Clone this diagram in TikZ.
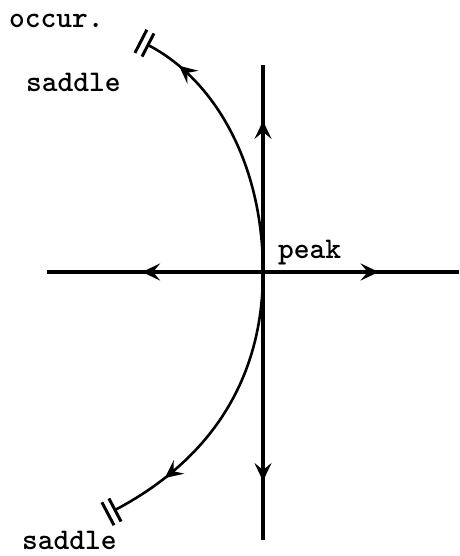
\documentclass[tikz,border=0pt]{standalone}
\usetikzlibrary{arrows.meta,decorations.markings}
\tikzset{
  axis/.style={line width=3.2pt},
  orbit/.style={line width=2.6pt},
  midarrow/.style={postaction={decorate,decoration={markings,
    mark=at position #1 with {\arrow{Stealth[length=18pt,width=17pt,inset=7pt]}}}}},
  saddlebar/.style={postaction={decorate,decoration={markings,
    mark=at position 1 with {\draw[line width=3pt] (0,-13pt) -- (0,13pt);
                             \draw[line width=3pt] (8pt,-13pt) -- (8pt,13pt);}}}},
  lbl/.style={font=\ttfamily\bfseries\fontsize{30}{35}\selectfont,inner sep=0pt,anchor=base west}
}

\begin{document}
\begin{tikzpicture}[x=1pt,y=-1pt]
\useasboundingbox (0,0) rectangle (459,556);

% critical point and ends of the axes
\coordinate (O) at (263,272);
\coordinate (top) at (263,65);
\coordinate (bot) at (263,540);
\coordinate (left) at (47,272);
\coordinate (right) at (459,272);
\coordinate (s1) at (148,45);
\coordinate (s2) at (115,510);

\draw[axis,midarrow=0.73] (O) -- (top);
\draw[axis,midarrow=0.78] (O) -- (bot);
\draw[axis,midarrow=0.56] (O) -- (left);
\draw[axis,midarrow=0.59] (O) -- (right);

% separatrices to the saddles
\draw[orbit,midarrow=0.86,saddlebar] (O) .. controls (263,160) and (212,78) .. (s1);
\draw[orbit,midarrow=0.8,saddlebar] (O) .. controls (263,380) and (210,460) .. (s2);

\node[lbl] (occ) at (9,28) {occur.};
\node[lbl] (sadtop) at (26,92) {saddle};
\node[lbl] (sadbot) at (22,549) {saddle};
\node[lbl] (pk) at (278,258) {peak};

\end{tikzpicture}
\end{document}
